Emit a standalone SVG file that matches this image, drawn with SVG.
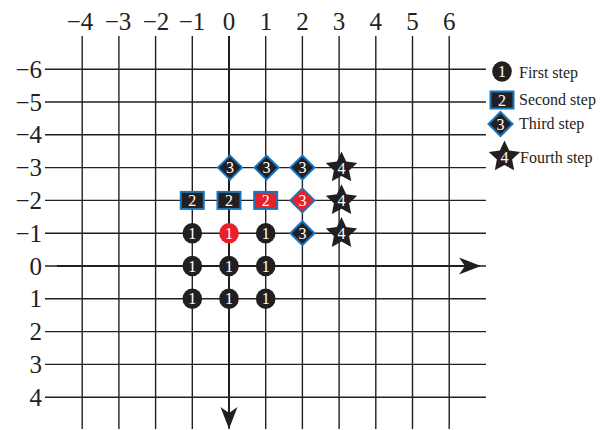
<svg xmlns="http://www.w3.org/2000/svg" xmlns:xlink="http://www.w3.org/1999/xlink" width="604" height="430" viewBox="0 0 604 430">
<style>
.grid line{stroke:#231f20;stroke-width:1.4}
.lbl{font-family:"Liberation Serif","Times New Roman",serif;font-size:25px;fill:#231f20}
.lt{text-anchor:middle}
.ll{text-anchor:end}
.mk{font-family:"Liberation Serif","Times New Roman",serif;font-size:16px;fill:#fff;text-anchor:middle}
.leg{font-family:"Liberation Serif","Times New Roman",serif;font-size:16px;fill:#231f20}
.blk{fill:#231f20}
.red{fill:#e8202a}
.bd{stroke:#1b75bb;stroke-width:2}
.axis{stroke:#231f20;stroke-width:2;fill:none}
.head{fill:#231f20}
</style>
<defs>
<ellipse id="circ" cx="0" cy="0" rx="9.8" ry="10.3"/>
<rect id="sq" x="-11.5" y="-8.5" width="23" height="17"/>
<polygon id="dia" points="0,-12 12,0 0,12 -12,0"/>
<path id="star" d="M0,-16.5 L4.7,-6.5 L15.7,-5.1 L7.6,2.5 L9.7,13.3 L0,8 L-9.7,13.3 L-7.6,2.5 L-15.7,-5.1 L-4.7,-6.5 Z"/>
</defs>
<rect width="604" height="430" fill="#fff"/>
<g class="grid" id="grid">
<line x1="45" y1="69.2" x2="486" y2="69.2"/>
<line x1="45" y1="102" x2="486" y2="102"/>
<line x1="45" y1="134.8" x2="486" y2="134.8"/>
<line x1="45" y1="167.6" x2="486" y2="167.6"/>
<line x1="45" y1="200.4" x2="486" y2="200.4"/>
<line x1="45" y1="233.2" x2="486" y2="233.2"/>
<line x1="45" y1="266" x2="486" y2="266"/>
<line x1="45" y1="298.8" x2="486" y2="298.8"/>
<line x1="45" y1="331.6" x2="486" y2="331.6"/>
<line x1="45" y1="364.4" x2="486" y2="364.4"/>
<line x1="45" y1="397.2" x2="486" y2="397.2"/>
<line x1="82.2" y1="36" x2="82.2" y2="429"/>
<line x1="118.9" y1="36" x2="118.9" y2="429"/>
<line x1="155.6" y1="36" x2="155.6" y2="429"/>
<line x1="192.3" y1="36" x2="192.3" y2="429"/>
<line x1="229" y1="36" x2="229" y2="429"/>
<line x1="265.7" y1="36" x2="265.7" y2="429"/>
<line x1="302.4" y1="36" x2="302.4" y2="429"/>
<line x1="339.1" y1="36" x2="339.1" y2="429"/>
<line x1="375.8" y1="36" x2="375.8" y2="429"/>
<line x1="412.5" y1="36" x2="412.5" y2="429"/>
<line x1="449.2" y1="36" x2="449.2" y2="429"/>
</g>
<g id="labels" class="lbl">
<text class="lt" x="80" y="30">−4</text>
<text class="lt" x="118" y="30">−3</text>
<text class="lt" x="156" y="30">−2</text>
<text class="lt" x="192" y="30">−1</text>
<text class="lt" x="229" y="30">0</text>
<text class="lt" x="266" y="30">1</text>
<text class="lt" x="302.4" y="30">2</text>
<text class="lt" x="339.1" y="30">3</text>
<text class="lt" x="375.8" y="30">4</text>
<text class="lt" x="412.5" y="30">5</text>
<text class="lt" x="449.2" y="30">6</text>
<text class="ll" x="42" y="77.7">−6</text>
<text class="ll" x="42" y="110.5">−5</text>
<text class="ll" x="42" y="143.3">−4</text>
<text class="ll" x="42" y="176.1">−3</text>
<text class="ll" x="42" y="208.9">−2</text>
<text class="ll" x="42" y="241.7">−1</text>
<text class="ll" x="42" y="274.5">0</text>
<text class="ll" x="42" y="307.3">1</text>
<text class="ll" x="42" y="340.1">2</text>
<text class="ll" x="42" y="372.9">3</text>
<text class="ll" x="42" y="405.7">4</text>
</g>
<g id="connectors">
<line class="axis" x1="57" y1="266" x2="470" y2="266"/>
<path class="head" d="M481,266 L459,257.5 L465,266 L459,274.5 Z"/>
<line class="axis" x1="229" y1="36" x2="229" y2="418"/>
<path class="head" d="M229,429 L220.5,407 L229,413 L237.5,407 Z"/>
</g>
<g id="n_c_m1_0"><use href="#circ" x="192.3" y="266" class="blk"/><text class="mk" x="192.3" y="271.5">1</text></g>
<g id="n_c_0_0"><use href="#circ" x="229" y="266" class="blk"/><text class="mk" x="229" y="271.5">1</text></g>
<g id="n_c_1_0"><use href="#circ" x="265.7" y="266" class="blk"/><text class="mk" x="265.7" y="271.5">1</text></g>
<g id="n_c_m1_1"><use href="#circ" x="192.3" y="298.8" class="blk"/><text class="mk" x="192.3" y="304.3">1</text></g>
<g id="n_c_0_1"><use href="#circ" x="229" y="298.8" class="blk"/><text class="mk" x="229" y="304.3">1</text></g>
<g id="n_c_1_1"><use href="#circ" x="265.7" y="298.8" class="blk"/><text class="mk" x="265.7" y="304.3">1</text></g>
<g id="n_c_m1_m1"><use href="#circ" x="192.3" y="233.2" class="blk"/><text class="mk" x="192.3" y="238.7">1</text></g>
<g id="n_c_0_m1"><use href="#circ" x="229" y="233.2" class="red"/><text class="mk" x="229" y="238.7">1</text></g>
<g id="n_c_1_m1"><use href="#circ" x="265.7" y="233.2" class="blk"/><text class="mk" x="265.7" y="238.7">1</text></g>
<g id="n_s_m1_m2"><use href="#sq" x="192.3" y="200.4" class="blk bd"/><text class="mk" x="192.3" y="205.9">2</text></g>
<g id="n_s_0_m2"><use href="#sq" x="229" y="200.4" class="blk bd"/><text class="mk" x="229" y="205.9">2</text></g>
<g id="n_s_1_m2"><use href="#sq" x="265.7" y="200.4" class="red bd"/><text class="mk" x="265.7" y="205.9">2</text></g>
<g id="n_d_0_m3"><use href="#dia" x="230" y="167.6" class="blk bd"/><text class="mk" x="230" y="173.1">3</text></g>
<g id="n_d_1_m3"><use href="#dia" x="266.5" y="167.6" class="blk bd"/><text class="mk" x="266.5" y="173.1">3</text></g>
<g id="n_d_2_m3"><use href="#dia" x="302.4" y="167.6" class="blk bd"/><text class="mk" x="302.4" y="173.1">3</text></g>
<g id="n_d_2_m2"><use href="#dia" x="302.4" y="200.4" class="red bd"/><text class="mk" x="302.4" y="205.9">3</text></g>
<g id="n_d_2_m1"><use href="#dia" x="302.4" y="233.2" class="blk bd"/><text class="mk" x="302.4" y="238.7">3</text></g>
<g id="n_st_m3"><use href="#star" x="341.5" y="168" class="blk"/><text class="mk" x="341.5" y="173.5">4</text></g>
<g id="n_st_m2"><use href="#star" x="341.5" y="200.8" class="blk"/><text class="mk" x="341.5" y="206.3">4</text></g>
<g id="n_st_m1"><use href="#star" x="341.5" y="233.6" class="blk"/><text class="mk" x="341.5" y="239.1">4</text></g>
<g id="legend">
<g id="leg1"><use href="#circ" x="502" y="71.5" class="blk"/><text class="mk" x="502" y="77">1</text><text class="leg" x="519" y="77.7">First step</text></g>
<g id="leg2"><use href="#sq" x="502" y="100" class="blk bd"/><text class="mk" x="502" y="105.5">2</text><text class="leg" x="519" y="105">Second step</text></g>
<g id="leg3"><use href="#dia" x="500.5" y="124" class="blk bd"/><text class="mk" x="500.5" y="129.5">3</text><text class="leg" x="519" y="128.5">Third step</text></g>
<g id="leg4"><use href="#star" x="504.5" y="157" class="blk"/><text class="mk" x="504.5" y="162.5">4</text><text class="leg" x="520" y="163">Fourth step</text></g>
</g>
</svg>
